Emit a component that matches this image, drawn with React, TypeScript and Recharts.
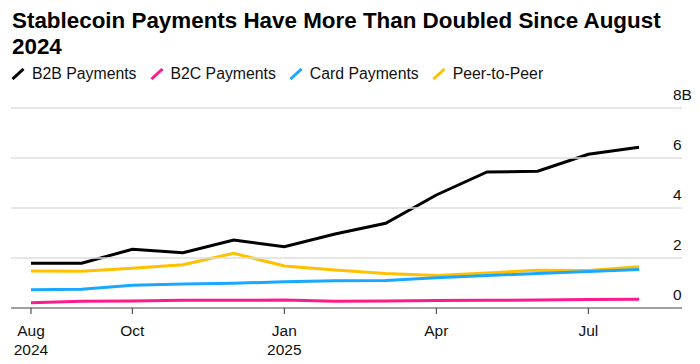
import React from "react";
import { LineChart, Line, XAxis, YAxis } from "recharts";

const months = [
  "2024-08", "2024-09", "2024-10", "2024-11", "2024-12", "2025-01",
  "2025-02", "2025-03", "2025-04", "2025-05", "2025-06", "2025-07", "2025-08",
];

const b2b = [1.79, 1.79, 2.35, 2.21, 2.72, 2.45, 2.96, 3.39, 4.52, 5.44, 5.47, 6.15, 6.43];
const b2c = [0.21, 0.27, 0.28, 0.31, 0.31, 0.32, 0.27, 0.28, 0.3, 0.31, 0.32, 0.34, 0.35];
const card = [0.73, 0.75, 0.91, 0.96, 0.99, 1.05, 1.09, 1.1, 1.21, 1.3, 1.38, 1.46, 1.54];
const p2p = [1.48, 1.47, 1.59, 1.73, 2.19, 1.68, 1.52, 1.38, 1.3, 1.4, 1.51, 1.5, 1.65];

const xTickLabels: Record<string, string[]> = {
  "2024-08": ["Aug", "2024"],
  "2024-10": ["Oct"],
  "2025-01": ["Jan", "2025"],
  "2025-04": ["Apr"],
  "2025-07": ["Jul"],
};

const yTicks = [0, 2, 4, 6, 8];
const yTickLabels = ["0", "2", "4", "6", "8B"];
const yDomainMax = 8.4;

const title = "Stablecoin Payments Have More Than Doubled Since August 2024";

const series = [
  { key: "b2b", name: "B2B Payments", color: "#000000", values: b2b },
  { key: "b2c", name: "B2C Payments", color: "#ff1a8c", values: b2c },
  { key: "card", name: "Card Payments", color: "#1aa7ff", values: card },
  { key: "p2p", name: "Peer-to-Peer", color: "#ffc000", values: p2p },
];

const data = months.map((m, i) => {
  const row: Record<string, string | number> = { month: m };
  series.forEach((s) => {
    row[s.key] = s.values[i];
  });
  return row;
});

const FONT = "'Liberation Sans', Arial, Helvetica, sans-serif";
const PLOT_LEFT = 11;

const renderXTick = (props: any) => {
  const { x, y, payload } = props;
  const lines = xTickLabels[payload.value];
  if (!lines) return <g />;
  return (
    <g>
      <line x1={x} x2={x} y1={y} y2={y + 6} stroke="#333" strokeWidth={1} />
      {lines.map((t, i) => (
        <text
          key={i}
          x={x}
          y={y + 28 + i * 19}
          textAnchor="middle"
          fontSize={15.5}
          fontFamily={FONT}
          fill="#111"
        >
          {t}
        </text>
      ))}
    </g>
  );
};

const renderYTick = (props: any) => {
  const { x, y, payload } = props;
  const idx = yTicks.indexOf(payload.value);
  return (
    <g>
      {payload.value > 0 && (
        <line
          x1={PLOT_LEFT}
          x2={x}
          y1={y}
          y2={y}
          stroke="#dedede"
          strokeWidth={1.5}
        />
      )}
      <text
        x={x - 9}
        y={y - 8}
        textAnchor="start"
        fontSize={15.5}
        fontFamily={FONT}
        fill="#111"
      >
        {yTickLabels[idx]}
      </text>
    </g>
  );
};

const Slash = ({ color }: { color: string }) => (
  <svg width={14} height={12} style={{ display: "block" }}>
    <line x1={1.5} y1={11} x2={12.5} y2={1} stroke={color} strokeWidth={3} />
  </svg>
);

export default function App() {
  return (
    <div
      style={{
        position: "absolute",
        left: 0,
        top: 0,
        width: 700,
        height: 364,
        background: "#fff",
        fontFamily: FONT,
        overflow: "hidden",
      }}
    >
      <div
        style={{
          position: "absolute",
          left: 12,
          top: 8,
          width: 676,
          fontSize: 22.4,
          lineHeight: "26px",
          fontWeight: 700,
          color: "#000",
        }}
      >
        {title}
      </div>
      <div
        style={{
          position: "absolute",
          left: 11,
          top: 64,
          display: "flex",
          alignItems: "center",
          fontSize: 15.8,
          lineHeight: "20px",
          color: "#111",
        }}
      >
        {series.map((s) => (
          <div
            key={s.key}
            style={{ display: "flex", alignItems: "center", marginRight: 13 }}
          >
            <Slash color={s.color} />
            <span style={{ marginLeft: 7 }}>{s.name}</span>
          </div>
        ))}
      </div>
      <div style={{ position: "absolute", left: 0, top: 0 }}>
        <LineChart
          width={700}
          height={364}
          data={data}
          margin={{ top: 98, right: 0, left: PLOT_LEFT, bottom: 0 }}
        >
          <YAxis
            orientation="right"
            width={18}
            domain={[0, yDomainMax]}
            ticks={yTicks}
            interval={0}
            axisLine={false}
            tickLine={false}
            tickSize={0}
            tickMargin={0}
            tick={renderYTick}
          />
          <XAxis
            dataKey="month"
            interval={0}
            height={56}
            padding={{ left: 20, right: 43 }}
            axisLine={{ stroke: "#444", strokeWidth: 1.2 }}
            tickLine={false}
            tickSize={0}
            tickMargin={0}
            tick={renderXTick}
          />
          {[...series].reverse().map((s) => (
            <Line
              key={s.key}
              dataKey={s.key}
              name={s.name}
              stroke={s.color}
              strokeWidth={3}
              dot={false}
              activeDot={false}
              isAnimationActive={false}
            />
          ))}
        </LineChart>
      </div>
    </div>
  );
}
